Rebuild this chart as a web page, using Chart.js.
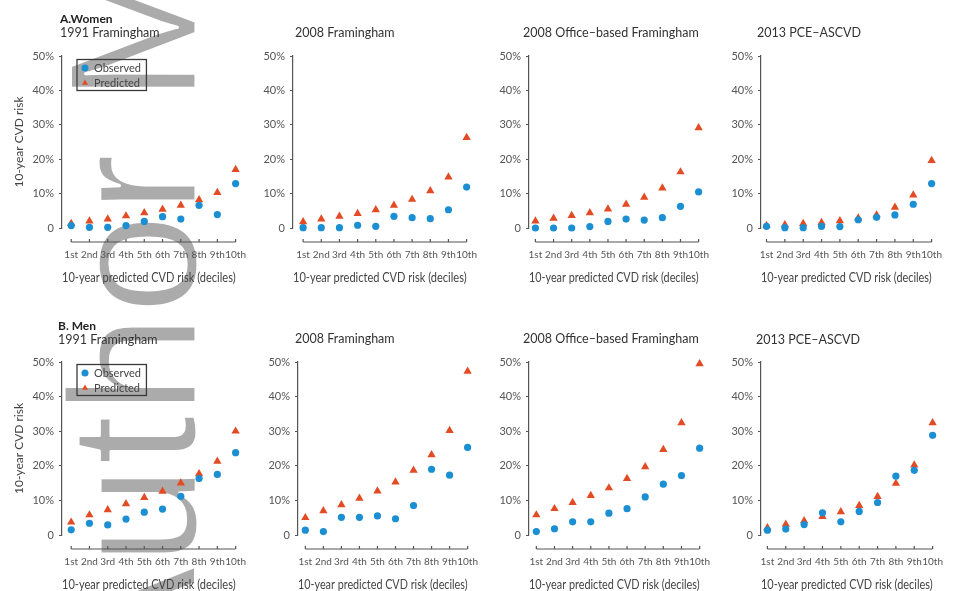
<!DOCTYPE html>
<html><head><meta charset="utf-8">
<script src="https://cdn.jsdelivr.net/npm/chart.js@4.4.1/dist/chart.umd.min.js"></script>
<style>
html,body{margin:0;padding:0;background:#fff;width:957px;height:591px;overflow:hidden;position:relative;font-family:Lato,"Open Sans",sans-serif;}
canvas{position:absolute;}
.t{position:absolute;font-size:12.5px;color:#333;white-space:nowrap;line-height:14px;}
.h{font-weight:bold;color:#222;font-size:12px;}
</style></head><body>
<canvas id="wm" width="957" height="591" style="left:0;top:0;width:957px;height:591px"></canvas>
<div class="t h" style="left:60px;top:12px">A.Women</div>
<div class="t" style="left:60px;top:26px">1991 Framingham</div>
<div class="t" style="left:295px;top:26px">2008 Framingham</div>
<div class="t" style="left:523px;top:26px">2008 Office–based Framingham</div>
<div class="t" style="left:757px;top:26px">2013 PCE–ASCVD</div>
<div class="t h" style="left:58px;top:319px">B. Men</div>
<div class="t" style="left:58px;top:333px">1991 Framingham</div>
<div class="t" style="left:295px;top:332px">2008 Framingham</div>
<div class="t" style="left:523px;top:332px">2008 Office–based Framingham</div>
<div class="t" style="left:756px;top:333px">2013 PCE–ASCVD</div>
<script>
// ---- data ----
const deciles = ['1st','2nd','3rd','4th','5th','6th','7th','8th','9th','10th'];
const yTicks = [0, 10, 20, 30, 40, 50];
const seriesNames = ['Observed', 'Predicted'];

const womenObs1991   = [0.7, 0.2, 0.2, 0.7, 1.9, 3.3, 2.6, 6.6, 3.9, 12.9];
const womenPred1991  = [1.3, 2.0, 2.6, 3.5, 4.4, 5.4, 6.6, 8.2, 10.3, 17.0];
const womenObs2008   = [0.1, 0.1, 0.1, 0.8, 0.5, 3.4, 3.0, 2.7, 5.3, 11.9];
const womenPred2008  = [1.8, 2.6, 3.4, 4.2, 5.3, 6.6, 8.3, 10.8, 14.8, 26.3];
const womenObsOffice = [0.0, 0.0, 0.0, 0.4, 1.9, 2.6, 2.3, 3.0, 6.3, 10.5];
const womenPredOffice= [2.0, 2.8, 3.6, 4.4, 5.5, 6.9, 8.9, 11.6, 16.3, 29.1];
const womenObsPce    = [0.5, 0.1, 0.1, 0.5, 0.4, 2.4, 3.1, 3.8, 6.9, 12.9];
const womenPredPce   = [0.7, 0.9, 1.3, 1.6, 2.1, 2.9, 3.8, 6.0, 9.6, 19.6];

const menObs1991     = [1.5, 3.4, 2.9, 4.6, 6.6, 7.5, 11.2, 16.3, 17.5, 23.8];
const menPred1991    = [3.7, 5.8, 7.3, 9.0, 10.8, 12.6, 15.0, 17.7, 21.3, 30.0];
const menObs2008     = [1.4, 1.0, 5.1, 5.1, 5.5, 4.7, 8.5, 19.0, 17.3, 25.3];
const menPred2008    = [5.0, 7.0, 8.7, 10.6, 12.7, 15.3, 18.7, 23.2, 30.2, 47.3];
const menObsOffice   = [1.0, 1.8, 3.8, 3.8, 6.3, 7.6, 11.0, 14.7, 17.2, 25.1];
const menPredOffice  = [5.8, 7.6, 9.4, 11.4, 13.6, 16.3, 19.7, 24.7, 32.4, 49.5];
const menObsPce      = [1.4, 1.7, 3.0, 6.4, 3.8, 6.8, 9.4, 17.0, 18.7, 28.8];
const menPredPce     = [2.1, 3.1, 4.1, 5.3, 6.7, 8.5, 11.1, 14.9, 20.2, 32.4];

const observedByPanel  = [womenObs1991, womenObs2008, womenObsOffice, womenObsPce, menObs1991, menObs2008, menObsOffice, menObsPce];
const predictedByPanel = [womenPred1991, womenPred2008, womenPredOffice, womenPredPce, menPred1991, menPred2008, menPredOffice, menPredPce];

// ---- layout / style ----
const FONT = 'Lato, "Open Sans", sans-serif';
const BLUE = '#1b8fd2';
const RED = '#e24b24';
const AXIS = '#555';
Chart.defaults.font.family = FONT;

const panels = [
  {axisX: 62,  lastX: 251, top: 56,  bottom: 228, xmin: 0.497, first: true},
  {axisX: 293, lastX: 482, top: 56,  bottom: 228, xmin: 0.444},
  {axisX: 529, lastX: 714, top: 56,  bottom: 228, xmin: 0.646},
  {axisX: 761, lastX: 947, top: 56,  bottom: 228, xmin: 0.70},
  {axisX: 62,  lastX: 251, top: 362, bottom: 535, xmin: 0.497, first: true},
  {axisX: 298, lastX: 483, top: 362, bottom: 535, xmin: 0.593},
  {axisX: 529, lastX: 715, top: 362, bottom: 535, xmin: 0.596},
  {axisX: 761, lastX: 948, top: 362, bottom: 535, xmin: 0.65}
];
const LEG = {size: 11, boxW: 7, boxH: 5, pad: 4};

// watermark
(function(){
  const c = document.getElementById('wm').getContext('2d');
  c.save();
  c.font = '181px "Liberation Sans", Arial, sans-serif';
  c.textBaseline = 'alphabetic';
  c.translate(195.5, 686.6);
  c.rotate(-Math.PI / 2);
  c.fillStyle = '#ababab';
  c.fillText('Author Manuscript', 0, 0);
  c.strokeStyle = '#ffffff';
  c.lineWidth = 3;
  c.lineJoin = 'round';
  c.strokeText('Author Manuscript', 0, 0);
  c.restore();
})();

const deciAxis = {
  id: 'deciAxis',
  afterDraw(chart, args, o) {
    const {ctx, chartArea} = chart;
    const xs = chart.scales.x;
    const y = chartArea.bottom + o.gap;
    ctx.save();
    ctx.strokeStyle = o.color;
    ctx.lineWidth = 1.2;
    ctx.beginPath();
    ctx.moveTo(xs.getPixelForValue(1), y);
    ctx.lineTo(xs.getPixelForValue(deciles.length), y);
    deciles.forEach((d, i) => {
      const x = xs.getPixelForValue(i + 1);
      ctx.moveTo(x, y);
      ctx.lineTo(x, y - 3);
    });
    ctx.stroke();
    ctx.restore();
  }
};

const legendFrame = {
  id: 'legendFrame',
  afterLayout(chart, args, o) {
    if (!o.enabled || !chart.legend) return;
    const a = chart.chartArea, lg = chart.legend;
    lg.left = a.left + o.dx;
    lg.top = a.top + o.dy;
    lg.right = a.right;
    lg.bottom = a.bottom;
  },
  afterDraw(chart, args, o) {
    if (!o.enabled || !chart.legend) return;
    const lg = chart.legend;
    const ctx = chart.ctx;
    ctx.save();
    ctx.font = LEG.size + 'px ' + FONT;
    const tw = Math.max(...seriesNames.map(s => ctx.measureText(s).width));
    const x0 = lg.left + LEG.pad, y0 = lg.top + LEG.pad;
    const itemH = Math.max(LEG.size, LEG.boxH);
    const n = seriesNames.length;
    ctx.strokeStyle = '#3a3a3a';
    ctx.lineWidth = 1.3;
    ctx.strokeRect(x0 - 4.5, y0 - 3, LEG.boxW + LEG.size / 2 + tw + 10, (n - 1) * (itemH + LEG.pad) + itemH + 5);
    ctx.restore();
  }
};

panels.forEach((P, k) => {
  const padT = 12, padR = 16, xH = 62;
  const yW = P.first ? P.axisX : 50;
  const left = P.axisX - yW, top = P.top - padT;
  const w = P.lastX + padR - left, h = P.bottom + xH - top;
  const cv = document.createElement('canvas');
  cv.width = w; cv.height = h;
  cv.style.left = left + 'px'; cv.style.top = top + 'px';
  cv.style.width = w + 'px'; cv.style.height = h + 'px';
  document.body.appendChild(cv);
  const toXY = arr => arr.map((v, i) => ({x: i + 1, y: v}));
  new Chart(cv, {
    type: 'scatter',
    data: {
      datasets: [
        {label: seriesNames[0], data: toXY(observedByPanel[k]), pointStyle: 'circle', pointRadius: 3.6,
         backgroundColor: BLUE, borderColor: BLUE, borderWidth: 0, clip: false},
        {label: seriesNames[1], data: toXY(predictedByPanel[k]), pointStyle: 'triangle', pointRadius: 4.8,
         backgroundColor: RED, borderColor: RED, borderWidth: 0, clip: false}
      ]
    },
    plugins: [deciAxis, legendFrame],
    options: {
      responsive: false, animation: false, events: [],
      layout: {padding: {left: 0, top: padT, right: padR, bottom: 0}},
      plugins: {
        tooltip: {enabled: false},
        legend: {
          display: !!P.first, position: 'chartArea', align: 'start',
          labels: {usePointStyle: true, boxWidth: LEG.boxW, boxHeight: LEG.boxH, padding: LEG.pad,
                   color: '#444', font: {family: FONT, size: LEG.size}}
        },
        deciAxis: {gap: 14, color: AXIS},
        legendFrame: {enabled: !!P.first, dx: 15.5, dy: P.top < 300 ? 2.5 : 1.5}
      },
      scales: {
        x: {
          type: 'linear', min: P.xmin, max: deciles.length,
          afterBuildTicks: s => { s.ticks = deciles.map((d, i) => ({value: i + 1})); },
          afterFit: s => { s.height = xH; },
          grid: {display: false, drawTicks: false},
          border: {display: false},
          ticks: {padding: 21, autoSkip: false, maxRotation: 0, color: AXIS,
                  font: {family: FONT, size: 10}, callback: v => deciles[Math.round(v) - 1]},
          title: {display: true, text: '10-year predicted CVD risk (deciles)', color: '#444',
                  font: {family: FONT, size: 12.6}, padding: {top: 0, bottom: 5}}
        },
        y: {
          type: 'linear', min: yTicks[0], max: yTicks[yTicks.length - 1],
          afterBuildTicks: s => { s.ticks = yTicks.map(v => ({value: v})); },
          afterFit: s => { s.width = yW; },
          grid: {display: true, drawOnChartArea: false, drawTicks: true, tickLength: 3, color: AXIS, lineWidth: 1},
          border: {display: true, color: AXIS, width: 1.2},
          ticks: {padding: 5, color: AXIS, font: {family: FONT, size: 11},
                  callback: v => v === 0 ? '0' : v + '%'},
          title: {display: !!P.first, text: '10-year CVD risk', color: '#444',
                  font: {family: FONT, size: 12}, padding: {top: 12, bottom: 0}}
        }
      }
    }
  });
});
</script>
</body></html>
